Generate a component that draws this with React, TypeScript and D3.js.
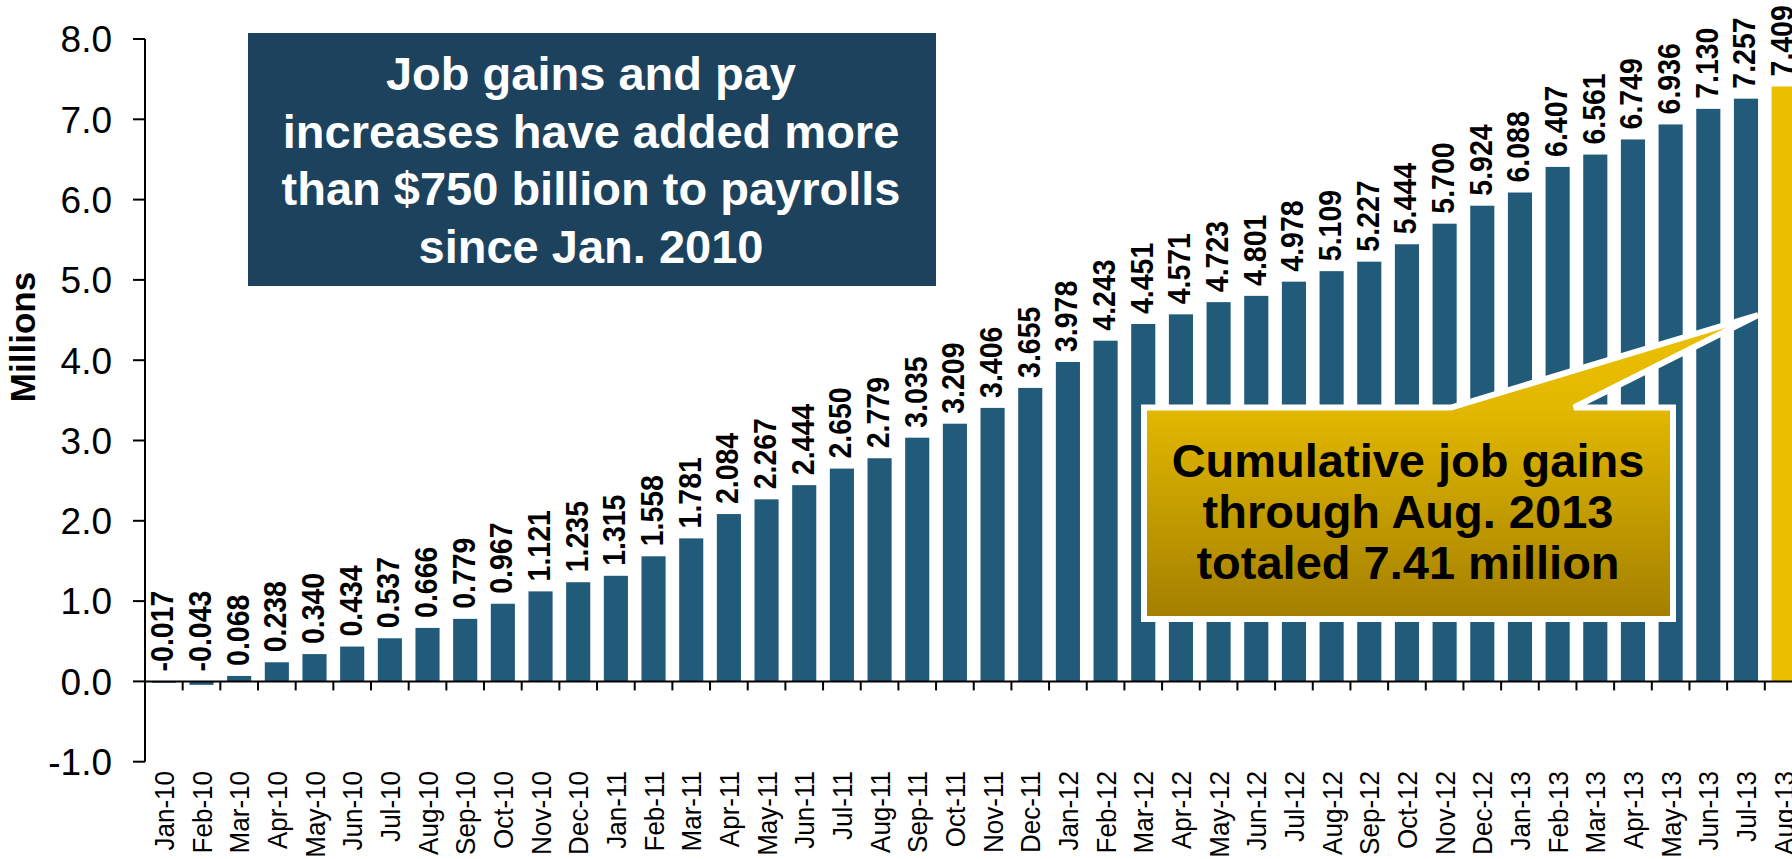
import * as d3 from "d3";

// cumulative job gains since Jan 2010, millions
const months = [
  "Jan-10", "Feb-10", "Mar-10", "Apr-10", "May-10", "Jun-10", "Jul-10", "Aug-10", "Sep-10", "Oct-10", "Nov-10", "Dec-10",
  "Jan-11", "Feb-11", "Mar-11", "Apr-11", "May-11", "Jun-11", "Jul-11", "Aug-11", "Sep-11", "Oct-11", "Nov-11", "Dec-11",
  "Jan-12", "Feb-12", "Mar-12", "Apr-12", "May-12", "Jun-12", "Jul-12", "Aug-12", "Sep-12", "Oct-12", "Nov-12", "Dec-12",
  "Jan-13", "Feb-13", "Mar-13", "Apr-13", "May-13", "Jun-13", "Jul-13", "Aug-13",
];
const gains = [
  -0.017, -0.043, 0.068, 0.238, 0.34, 0.434, 0.537, 0.666, 0.779, 0.967, 1.121, 1.235,
  1.315, 1.558, 1.781, 2.084, 2.267, 2.444, 2.65, 2.779, 3.035, 3.209, 3.406, 3.655,
  3.978, 4.243, 4.451, 4.571, 4.723, 4.801, 4.978, 5.109, 5.227, 5.444, 5.7, 5.924,
  6.088, 6.407, 6.561, 6.749, 6.936, 7.13, 7.257, 7.409,
];
const yTicks = [-1, 0, 1, 2, 3, 4, 5, 6, 7, 8];
const highlight = "Aug-13";

const noteLines = ["Job gains and pay", "increases have added more", "than $750 billion to payrolls", "since Jan. 2010"];
const calloutLines = ["Cumulative job gains", "through Aug. 2013", "totaled 7.41 million"];

const W = 1792;
const H = 859;
const FONT = "'Liberation Sans', Arial, sans-serif";
const BLUE = "#225B7A";
const GOLD = "#EBBF00";

export default function App() {
  const left = 145;
  const step = 37.67;
  const right = left + step * months.length;

  const x = d3.scaleBand<string>().domain(months).range([left, right]).paddingInner(0.36).paddingOuter(0.18);
  const slot = d3.scaleBand<string>().domain(months).range([left, right]).padding(0);
  const y = d3.scaleLinear().domain([-1, 8]).range([761.7, 39]);
  const y0 = y(0);

  const data = months.map((m, i) => ({ m, v: gains[i] }));

  // callout shape: box with a pointer towards the last bars
  const box = { x0: 1144, y0: 407.5, x1: 1673, y1: 619 };
  const pointer = d3.path();
  pointer.moveTo(box.x0, box.y0);
  pointer.lineTo(1451, box.y0);
  pointer.lineTo(1758, 315);
  pointer.lineTo(1574, box.y0);
  pointer.lineTo(box.x1, box.y0);
  pointer.lineTo(box.x1, box.y1);
  pointer.lineTo(box.x0, box.y1);
  pointer.closePath();

  return (
    <svg
      width={W}
      height={H}
      style={{ position: "absolute", left: 0, top: 0, display: "block", background: "#fff" }}
      fontFamily={FONT}
    >
      <defs>
        <linearGradient id="gold" gradientUnits="userSpaceOnUse" x1={0} y1={315} x2={0} y2={619}>
          <stop offset="0" stopColor="#EDC000" />
          <stop offset="0.31" stopColor="#E2B800" />
          <stop offset="1" stopColor="#A37F00" />
        </linearGradient>
      </defs>

      {/* bars */}
      {data.map((d) => (
        <rect
          key={d.m}
          x={x(d.m)}
          y={Math.min(y(d.v), y0)}
          width={x.bandwidth()}
          height={Math.abs(y(d.v) - y0)}
          fill={d.m === highlight ? GOLD : BLUE}
        />
      ))}

      {/* value labels (glyphs a bit squeezed along the reading direction, like the original) */}
      {data.map((d) => {
        const cx = (x(d.m) as number) + x.bandwidth() / 2 - 2;
        const ty = Math.min(y(d.v), y0) - 10;
        return (
          <text
            key={"v" + d.m}
            transform={`translate(${cx},${ty}) rotate(-90) scale(0.89,1)`}
            dy="0.36em"
            fontSize={32}
            fontWeight="bold"
            fill="#000"
          >
            {d.v.toFixed(3)}
          </text>
        );
      })}

      {/* y axis */}
      <line x1={left} x2={left} y1={y(8)} y2={y(-1)} stroke="#000" strokeWidth={2} />
      {yTicks.map((t) => (
        <g key={t}>
          <line x1={133} x2={left} y1={y(t)} y2={y(t)} stroke="#000" strokeWidth={2} />
          <text x={112} y={y(t)} dy="0.36em" textAnchor="end" fontSize={37} fill="#000">
            {t.toFixed(1)}
          </text>
        </g>
      ))}
      <text transform="translate(35,337) rotate(-90)" textAnchor="middle" fontSize={35} fontWeight="bold" fill="#000">
        Millions
      </text>

      {/* x axis at zero */}
      <line x1={left} x2={right} y1={y0} y2={y0} stroke="#000" strokeWidth={2} />
      {months.map((m) => (
        <line
          key={"t" + m}
          x1={(slot(m) as number) + slot.bandwidth()}
          x2={(slot(m) as number) + slot.bandwidth()}
          y1={y0}
          y2={y0 + 9}
          stroke="#000"
          strokeWidth={2}
        />
      ))}
      {months.map((m) => (
        <text
          key={"l" + m}
          transform={`translate(${(slot(m) as number) + slot.bandwidth() / 2},771) rotate(-90) scale(0.93,1)`}
          dy="0.36em"
          textAnchor="end"
          fontSize={28}
          fill="#000"
        >
          {m}
        </text>
      ))}

      {/* headline box */}
      <rect x={248} y={33} width={688} height={253} fill="#1D425E" />
      {noteLines.map((s, i) => (
        <text key={s} x={591} y={90 + i * 57.7} textAnchor="middle" fontSize={47} fontWeight="bold" fill="#fff">
          {s}
        </text>
      ))}

      {/* callout */}
      <path d={pointer.toString()} fill="url(#gold)" stroke="#fff" strokeWidth={6} strokeLinejoin="miter" />
      {calloutLines.map((s, i) => (
        <text key={s} x={1408} y={477 + i * 51} textAnchor="middle" fontSize={47} fontWeight="bold" fill="#000">
          {s}
        </text>
      ))}
    </svg>
  );
}
